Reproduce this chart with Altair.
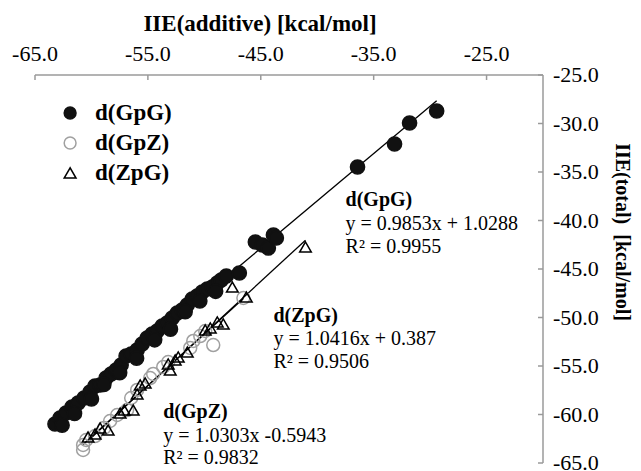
import altair as alt
import pandas as pd

series_names = ["d(GpG)", "d(GpZ)", "d(ZpG)"]

x_gpg = [-63.23, -62.78, -62.25, -61.72, -61.18, -60.65, -60.12, -59.68, -59.23, -58.70,
         -58.26, -57.81, -57.37, -56.93, -56.48, -55.95, -55.51, -55.06, -54.62, -54.17,
         -53.73, -53.29, -52.84, -52.40, -51.96, -51.51, -51.07, -50.63, -50.18, -49.74,
         -49.29, -48.85, -48.50, -48.05, -46.90, -45.48, -44.86, -44.33, -43.88, -43.62,
         -36.43, -33.15, -31.82, -29.42,
         -62.60, -61.50, -60.00, -58.90, -57.50, -56.00, -54.40, -53.00, -51.70, -50.40, -49.00]
y_gpg = [-60.98, -60.36, -59.85, -59.23, -58.81, -58.30, -57.68, -57.06, -56.96, -56.24,
         -55.82, -55.41, -54.90, -53.97, -53.76, -53.35, -52.73, -52.11, -51.70, -51.39,
         -50.88, -50.57, -50.05, -49.54, -49.23, -48.71, -48.09, -47.78, -47.37, -47.06,
         -46.86, -46.44, -46.13, -45.72, -45.41, -42.22, -42.53, -42.84, -41.49, -41.80,
         -34.48, -32.11, -29.95, -28.71,
         -61.10, -59.90, -58.40, -56.90, -55.70, -54.20, -52.30, -51.20, -49.40, -48.30, -47.30]

x_gpz = [-60.74, -60.74, -60.47, -59.68, -58.88, -58.35, -57.72, -56.84, -56.48, -55.95,
         -54.80, -54.53, -53.64, -53.20, -51.25, -50.98, -50.36, -49.92, -49.21, -46.54]
y_gpz = [-63.66, -63.14, -62.63, -62.22, -61.39, -60.67, -60.05, -59.54, -58.30, -57.47,
         -56.24, -55.82, -55.10, -54.59, -53.14, -52.42, -51.91, -51.39, -52.84, -47.99]

x_zpg = [-60.30, -59.68, -59.23, -58.52, -57.46, -57.10, -56.30, -55.95, -55.68, -55.24,
         -53.20, -53.02, -52.58, -52.31, -51.51, -49.92, -49.47, -48.85, -48.32, -47.52,
         -46.28, -41.04]
y_zpg = [-62.32, -62.01, -61.39, -61.60, -59.85, -59.54, -59.54, -57.89, -56.96, -56.75,
         -54.79, -55.41, -54.38, -54.07, -53.56, -51.29, -51.08, -50.46, -50.67, -46.86,
         -47.89, -42.73]

x_ticks = [-65, -55, -45, -35, -25]
x_tick_labels = ["-65.0", "-55.0", "-45.0", "-35.0", "-25.0"]
y_ticks = [-65, -60, -55, -50, -45, -40, -35, -30, -25]
y_tick_labels = ["-65.0", "-60.0", "-55.0", "-50.0", "-45.0", "-40.0", "-35.0", "-30.0", "-25.0"]

x_title = "IIE(additive) [kcal/mol]"
y_title = "IIE(total)\u00a0 [kcal/mol]"

ann_text = ["d(GpG)", "y = 0.9853x + 1.0288", "R\u00b2 = 0.9955",
            "d(ZpG)", "y = 1.0416x + 0.387", "R\u00b2 = 0.9506",
            "d(GpZ)", "y = 1.0303x -0.5943", "R\u00b2 = 0.9832"]
ann_x = [-37.49] * 3 + [-43.88] * 3 + [-53.64] * 3
ann_y = [-37.89, -40.36, -42.73, -49.85, -52.22, -54.59, -59.74, -62.22, -64.48]
ann_bold = [True, False, False] * 3

# legend entry anchor positions (in axis units)
leg_x = [-61.89, -61.89, -61.89]
leg_y = [-28.92, -32.01, -35.10]
leg_label_x = [-59.68, -59.68, -59.68]

df = pd.concat([
    pd.DataFrame({"x": x_gpg, "y": y_gpg, "series": series_names[0]}),
    pd.DataFrame({"x": x_gpz, "y": y_gpz, "series": series_names[1]}),
    pd.DataFrame({"x": x_zpg, "y": y_zpg, "series": series_names[2]}),
], ignore_index=True)
ann = pd.DataFrame({"x": ann_x, "y": ann_y, "text": ann_text, "bold": ann_bold})
leg = pd.DataFrame({"x": leg_x, "y": leg_y, "lx": leg_label_x, "series": series_names})
xt_df = pd.DataFrame({"v": x_ticks, "label": x_tick_labels})
yt_df = pd.DataFrame({"v": y_ticks, "label": y_tick_labels})

W, H = 508, 388
FONT = "Liberation Serif"
AXIS_GRAY = "#9a9a9a"

xscale = alt.Scale(domain=[-65, -20], nice=False, zero=False)
yscale = alt.Scale(domain=[-65, -25], nice=False, zero=False)

def X(field):
    return alt.X(field, type="quantitative", scale=xscale, axis=None)

def Y(field):
    return alt.Y(field, type="quantitative", scale=yscale, axis=None)

shape_s = alt.Scale(domain=series_names, range=["circle", "circle", "triangle-up"])
fill_s = alt.Scale(domain=series_names, range=["#111111", "#ffffff00", "#ffffff00"])
stroke_s = alt.Scale(domain=series_names, range=["#111111", "#a0a0a0", "#000000"])

lines = alt.Chart(df).transform_regression("x", "y", groupby=["series"]).mark_line(
    color="black", strokeWidth=1.3
).encode(x=X("x"), y=Y("y"), detail="series:N")

points = alt.Chart(df).mark_point(opacity=1, strokeWidth=1.5).encode(
    x=X("x"), y=Y("y"),
    shape=alt.Shape("series:N", scale=shape_s, legend=None),
    fill=alt.Fill("series:N", scale=fill_s, legend=None),
    stroke=alt.Stroke("series:N", scale=stroke_s, legend=None),
    size=alt.Size("series:N", scale=alt.Scale(domain=series_names, range=[200, 135, 120]), legend=None),
)

# axis lines
top_line = alt.Chart(pd.DataFrame({"a": [-65], "b": [-20], "c": [-25]})).mark_rule(
    color=AXIS_GRAY, strokeWidth=1.5).encode(x=X("a"), x2="b", y=Y("c"))
right_line = alt.Chart(pd.DataFrame({"a": [-20], "b": [-65], "c": [-25]})).mark_rule(
    color=AXIS_GRAY, strokeWidth=1.5).encode(x=X("a"), y=Y("b"), y2="c")

xt = alt.Chart(xt_df).mark_rule(color=AXIS_GRAY, strokeWidth=1.5).encode(
    x=X("v"), y=alt.value(0), y2=alt.value(5))
yt = alt.Chart(yt_df).mark_rule(color=AXIS_GRAY, strokeWidth=1.5).encode(
    y=Y("v"), x=alt.value(W - 5), x2=alt.value(W))

xl = alt.Chart(xt_df).mark_text(font=FONT, fontSize=22, color="black", align="center",
                                baseline="middle").encode(x=X("v"), y=alt.value(-21), text="label:N")
yl = alt.Chart(yt_df).mark_text(font=FONT, fontSize=22, color="black", align="left",
                                baseline="middle").encode(y=Y("v"), x=alt.value(W + 10), text="label:N")

xtitle = alt.Chart(pd.DataFrame({"t": [x_title]})).mark_text(
    font=FONT, fontSize=23, fontWeight="bold", color="black", align="center", baseline="middle"
).encode(x=alt.value(225), y=alt.value(-51), text="t:N")
ytitle = alt.Chart(pd.DataFrame({"t": [y_title]})).mark_text(
    font=FONT, fontSize=20, fontWeight="bold", color="black", align="center", baseline="middle",
    angle=90
).encode(x=alt.value(W + 79), y=alt.value(157), text="t:N")

leg_sym = alt.Chart(leg).mark_point(opacity=1, strokeWidth=1.5, size=140).encode(
    x=X("x"), y=Y("y"),
    shape=alt.Shape("series:N", scale=shape_s, legend=None),
    fill=alt.Fill("series:N", scale=fill_s, legend=None),
    stroke=alt.Stroke("series:N", scale=stroke_s, legend=None),
)
leg_txt = alt.Chart(leg).mark_text(font=FONT, fontSize=23, fontWeight="bold", color="black",
                                   align="left", baseline="middle").encode(
    x=X("lx"), y=Y("y"), text="series:N")

txt_bold = alt.Chart(ann).transform_filter("datum.bold").mark_text(
    align="left", baseline="middle", font=FONT, fontSize=20, fontWeight="bold", color="black"
).encode(x=X("x"), y=Y("y"), text="text:N")
txt_norm = alt.Chart(ann).transform_filter("!datum.bold").mark_text(
    align="left", baseline="middle", font=FONT, fontSize=20, color="black"
).encode(x=X("x"), y=Y("y"), text="text:N")

chart = alt.layer(
    lines, points, top_line, right_line, xt, yt, xl, yl, xtitle, ytitle,
    leg_sym, leg_txt, txt_bold, txt_norm
).properties(
    width=W, height=H,
    autosize=alt.AutoSizeParams(type="none"),
    padding={"left": 27, "top": 67, "right": 90, "bottom": 8},
).configure_view(strokeWidth=0)

chart.save("out.html", embed_options={"renderer": "svg", "actions": False})
